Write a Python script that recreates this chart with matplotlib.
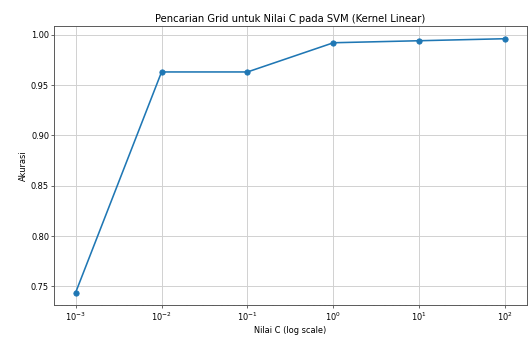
import matplotlib
matplotlib.use("Agg")
from matplotlib import pyplot as plt

matplotlib.rcParams.update({'font.size': 11.5})

# C values tried in the grid search and the accuracy for each
c_values = [0.001, 0.01, 0.1, 1, 10, 100]
akurasi = [0.744, 0.963, 0.963, 0.992, 0.994, 0.996]

fig = plt.figure(figsize=(531 / 52.0, 338 / 52.0), dpi=52)
ax = fig.add_axes([0.102, 0.097, 0.890, 0.826])
ax.plot(c_values, akurasi, marker='o', linewidth=2.2, markersize=7.5)
ax.set_xscale('log')
ax.set_title("Pencarian Grid untuk Nilai C pada SVM (Kernel Linear)", fontsize=13.8)
ax.set_xlabel("Nilai C (log scale)")
ax.set_ylabel("Akurasi")
ax.grid(True, color='#d0d0d0', linewidth=1.3)
for s in ax.spines.values():
    s.set_color('#555555')
    s.set_linewidth(1.3)

fig.savefig("out.png", dpi=52)
